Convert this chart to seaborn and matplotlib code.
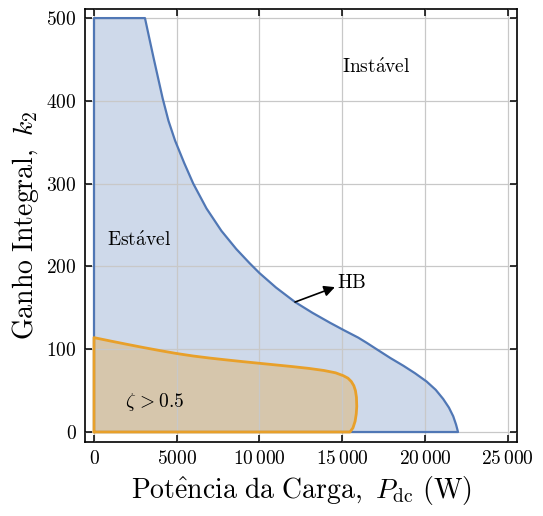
import numpy as np
import pandas as pd
import seaborn as sns
import matplotlib.pyplot as plt

# stability boundary (HB)
hb_x = [0, 0, 3080, 3350, 3600, 3880, 4150, 4500, 4900, 5450, 6000, 6800, 7700, 8600,
        9400, 10000, 11000, 12150, 13200, 14260, 15100, 15970, 16500, 17080, 17900,
        18700, 19400, 20100, 20650, 21100, 21450, 21710, 21880, 22000, 0]
hb_y = [0, 500, 500, 475, 452, 427, 403, 376, 352, 325, 300, 270, 243, 221,
        204, 192, 174.5, 157, 144, 132, 123, 114, 107.5, 100, 89.5,
        80, 71, 61, 51, 40, 29.5, 19, 9, 0, 0]

# damping region zeta > 0.5
zeta_x = [0, 0, 1000, 2000, 3000, 4000, 5000, 6000, 7000, 8000, 9000, 10000, 11000,
          12000, 13000, 13900, 14600, 15070, 15350, 15550, 15700, 15800, 15860, 15880,
          15850, 15780, 15650, 15470, 0]
zeta_y = [0, 114, 109.9, 105.9, 102, 98.3, 94.8, 91.8, 89.3, 87.1, 85, 83, 81,
          79, 76.8, 74.3, 71.5, 68, 65, 61, 56, 50, 42, 31,
          22, 13, 5, 0, 0]

xticks = [0, 5000, 10000, 15000, 20000, 25000]
xtick_labels = ["$0$", "$5000$", r"$10\,000$", r"$15\,000$", r"$20\,000$", r"$25\,000$"]
yticks = [0, 100, 200, 300, 400, 500]

sns.set_theme(style="ticks")
plt.rcParams["font.family"] = ["serif"]
plt.rcParams["font.serif"] = ["cmr10", "DejaVu Serif"]
plt.rcParams["mathtext.fontset"] = "cm"
plt.rcParams["axes.unicode_minus"] = False
plt.rcParams["text.color"] = "black"
plt.rcParams["axes.labelcolor"] = "black"

blue = "#5077b5"
orange = "#e8a02a"

fig = plt.figure(figsize=(5.43, 5.16), dpi=100)
ax = fig.add_axes([0.1565, 0.144, 0.7955, 0.8386])

df_hb = pd.DataFrame({"x": hb_x, "y": hb_y})
df_z = pd.DataFrame({"x": zeta_x, "y": zeta_y})

ax.fill(df_hb["x"], df_hb["y"], color=blue, alpha=0.28, lw=0, zorder=1)
ax.fill(df_z["x"], df_z["y"], color=orange, alpha=0.32, lw=0, zorder=2)
sns.lineplot(data=df_hb, x="x", y="y", sort=False, estimator=None, color=blue, lw=1.6,
             solid_joinstyle="round", ax=ax, zorder=3)
sns.lineplot(data=df_z, x="x", y="y", sort=False, estimator=None, color=orange, lw=2.0,
             solid_joinstyle="round", ax=ax, zorder=4)

ax.set_xlim(-545, 25560)
ax.set_ylim(-11.7, 511)
ax.set_xticks(xticks)
ax.set_xticklabels(xtick_labels)
ax.set_yticks(yticks)
ax.set_yticklabels([f"${v}$" for v in yticks])
ax.grid(True, color="#c8c8c8", lw=0.9, zorder=5)
ax.set_axisbelow(False)
ax.tick_params(direction="in", top=True, right=True, length=5, width=1.1,
               labelsize=14, colors="black", pad=6)
for s in ax.spines.values():
    s.set_color("black")
    s.set_linewidth(1.2)

ax.set_xlabel(r"$\mathrm{Pot\hat{e}ncia\ da\ Carga,}\ P_{\mathrm{dc}}\ \mathrm{(W)}$", fontsize=20, labelpad=4)
ax.set_ylabel(r"$\mathrm{Ganho\ Integral,}\ k_2$", fontsize=20, labelpad=4)

ax.text(15000, 440, r"$\mathrm{Inst\acute{a}vel}$", fontsize=14, va="center", ha="left", zorder=6)
ax.text(800, 231, r"$\mathrm{Est\acute{a}vel}$", fontsize=14, va="center", ha="left", zorder=6)
ax.text(1900, 36, r"$\zeta\, > 0.5$", fontsize=14, va="center", ha="left", zorder=6)
ax.text(14700, 180, r"$\mathrm{HB}$", fontsize=14, va="center", ha="left", zorder=6)
ax.annotate("", xy=(14560, 175), xytext=(12150, 157),
            arrowprops=dict(arrowstyle="-|>", color="black", lw=1.2, mutation_scale=16,
                            shrinkA=0, shrinkB=0), zorder=6)

fig.savefig("out.png", dpi=100)
